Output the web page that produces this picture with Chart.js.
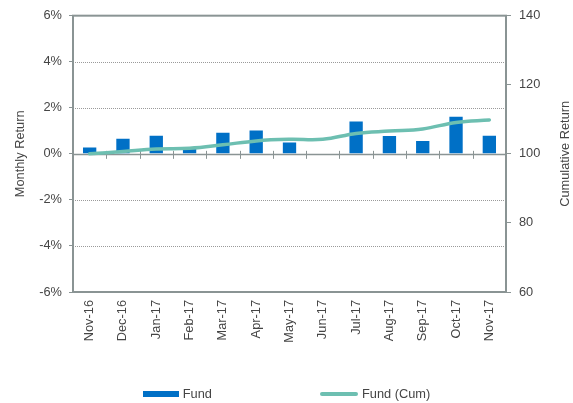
<!DOCTYPE html>
<html>
<head>
<meta charset="utf-8">
<script src="https://cdn.jsdelivr.net/npm/chart.js@4"></script>
<style>
  html, body { margin: 0; padding: 0; background: #ffffff; }
  #wrap { position: relative; width: 573px; height: 403px; }
  #legend {
    position: absolute; left: 0; top: 385px; width: 573px; height: 17px;
    display: flex; justify-content: center; align-items: center; gap: 108px;
    font-family: "Liberation Sans", Arial, sans-serif; font-size: 12.8px; color: #454545;
  }
  .item { display: flex; align-items: center; }
  .sw { margin-right: 4px; }
</style>
</head>
<body>
<div id="wrap">
  <canvas id="c"></canvas>
  <div id="legend"></div>
</div>
<script>
// ---- data ----
const months = ['Nov-16','Dec-16','Jan-17','Feb-17','Mar-17','Apr-17','May-17','Jun-17','Jul-17','Aug-17','Sep-17','Oct-17','Nov-17'];
const fundMonthly = [0.27, 0.66, 0.79, 0.25, 0.92, 1.01, 0.49, -0.02, 1.40, 0.78, 0.56, 1.61, 0.79];
const fundCumulative = [100, 100.7, 101.4, 101.6, 102.6, 103.75, 104.2, 104.2, 105.9, 106.6, 107.2, 109.1, 109.8];
const leftTicks = [-6, -4, -2, 0, 2, 4, 6];
const rightTicks = [60, 80, 100, 120, 140];
const seriesNames = ['Fund', 'Fund (Cum)'];
const leftTitle = 'Monthly Return';
const rightTitle = 'Cumulative Return';

// ---- styles ----
const BAR_COLOR = '#0070C6';
const LINE_COLOR = '#6DBFB1';
const AXIS_COLOR = '#8a9494';
const GRID_COLOR = '#9a9a9a';
const TEXT_COLOR = '#454545';
const FONT_FAMILY = '"Liberation Sans", Arial, sans-serif';
const FONT_SIZE = 12.8;

const framePlugin = {
  id: 'frame',
  beforeDatasetsDraw(chart) {
    const { ctx, chartArea: a, scales: { x, y } } = chart;
    ctx.save();
    y.ticks.forEach(t => {
      if (t.value === y.max || t.value === y.min) return;
      const py = Math.round(y.getPixelForValue(t.value)) + 0.5;
      ctx.beginPath();
      if (t.value === 0) {
        ctx.setLineDash([]);
        ctx.strokeStyle = AXIS_COLOR;
        ctx.lineWidth = 1.5;
      } else {
        ctx.setLineDash([1, 1]);
        ctx.strokeStyle = GRID_COLOR;
        ctx.lineWidth = 1;
      }
      ctx.moveTo(a.left, py);
      ctx.lineTo(a.right, py);
      ctx.stroke();
    });
    ctx.setLineDash([]);
    ctx.strokeStyle = AXIS_COLOR;
    ctx.lineWidth = 1;
    const y0 = y.getPixelForValue(0);
    for (let i = 1; i < months.length; i++) {
      const px = Math.round((x.getPixelForValue(i - 1) + x.getPixelForValue(i)) / 2) + 0.5;
      ctx.beginPath();
      ctx.moveTo(px, y0 - 3);
      ctx.lineTo(px, y0 + 5);
      ctx.stroke();
    }
    ctx.restore();
  },
  afterDraw(chart) {
    const { ctx, chartArea: a } = chart;
    ctx.save();
    ctx.strokeStyle = AXIS_COLOR;
    ctx.lineWidth = 2;
    ctx.strokeRect(a.left, a.top, a.right - a.left, a.bottom - a.top);
    ctx.fillStyle = TEXT_COLOR;
    ctx.font = FONT_SIZE + 'px ' + FONT_FAMILY;
    ctx.textAlign = 'center';
    ctx.textBaseline = 'middle';
    ctx.translate(chart.width - 8, (a.top + a.bottom) / 2);
    ctx.rotate(-Math.PI / 2);
    ctx.fillText(rightTitle, 0, 0);
    ctx.restore();
  }
};

const chart = new Chart(document.getElementById('c'), {
  data: {
    labels: months,
    datasets: [
      {
        type: 'line',
        label: seriesNames[1],
        data: fundCumulative,
        yAxisID: 'y1',
        borderColor: LINE_COLOR,
        backgroundColor: LINE_COLOR,
        borderWidth: 3.5,
        tension: 0.4,
        pointRadius: 0,
        borderCapStyle: 'round',
        order: 0
      },
      {
        type: 'bar',
        label: seriesNames[0],
        data: fundMonthly,
        yAxisID: 'y',
        backgroundColor: BAR_COLOR,
        borderWidth: 0,
        categoryPercentage: 0.4,
        barPercentage: 1,
        order: 1
      }
    ]
  },
  options: {
    responsive: true,
    maintainAspectRatio: false,
    animation: false,
    layout: { padding: { top: 15, left: 0, right: 0, bottom: 0 } },
    plugins: { legend: { display: false }, tooltip: { enabled: false } },
    scales: {
      x: {
        offset: true,
        grid: { drawOnChartArea: false, drawTicks: false },
        border: { display: false },
        ticks: {
          minRotation: 90, maxRotation: 90, padding: 8, autoSkip: false,
          color: TEXT_COLOR, font: { family: FONT_FAMILY, size: FONT_SIZE }
        },
        afterFit(s) { s.height = 111; }
      },
      y: {
        position: 'left',
        min: leftTicks[0], max: leftTicks[leftTicks.length - 1],
        afterBuildTicks(s) { s.ticks = leftTicks.map(v => ({ value: v })); },
        grid: { drawOnChartArea: false, drawTicks: true, tickLength: 4, color: AXIS_COLOR },
        border: { display: false },
        ticks: {
          padding: 7, color: TEXT_COLOR, font: { family: FONT_FAMILY, size: FONT_SIZE },
          callback: v => v + '%'
        },
        title: {
          display: true, text: leftTitle, color: TEXT_COLOR,
          font: { family: FONT_FAMILY, size: FONT_SIZE }, padding: { top: 12.5, bottom: 0 }
        },
        afterFit(s) { s.width = 73; }
      },
      y1: {
        position: 'right',
        min: rightTicks[0], max: rightTicks[rightTicks.length - 1],
        afterBuildTicks(s) { s.ticks = rightTicks.map(v => ({ value: v })); },
        grid: { drawOnChartArea: false, drawTicks: true, tickLength: 5, color: AXIS_COLOR },
        border: { display: false },
        ticks: { padding: 8, color: TEXT_COLOR, font: { family: FONT_FAMILY, size: FONT_SIZE } },
        afterFit(s) { s.width = 67; }
      }
    }
  },
  plugins: [framePlugin]
});

const legendEl = document.getElementById('legend');
[chart.data.datasets[1], chart.data.datasets[0]].forEach(ds => {
  const item = document.createElement('div');
  item.className = 'item';
  const sw = document.createElement('span');
  sw.className = 'sw';
  sw.style.display = 'inline-block';
  if (ds.type === 'bar') {
    sw.style.width = '36px'; sw.style.height = '6px'; sw.style.background = ds.backgroundColor;
  } else {
    sw.style.width = '38px'; sw.style.height = '4px'; sw.style.borderRadius = '2px'; sw.style.background = ds.borderColor;
  }
  const tx = document.createElement('span');
  tx.textContent = ds.label;
  item.appendChild(sw);
  item.appendChild(tx);
  legendEl.appendChild(item);
});
</script>
</body>
</html>
